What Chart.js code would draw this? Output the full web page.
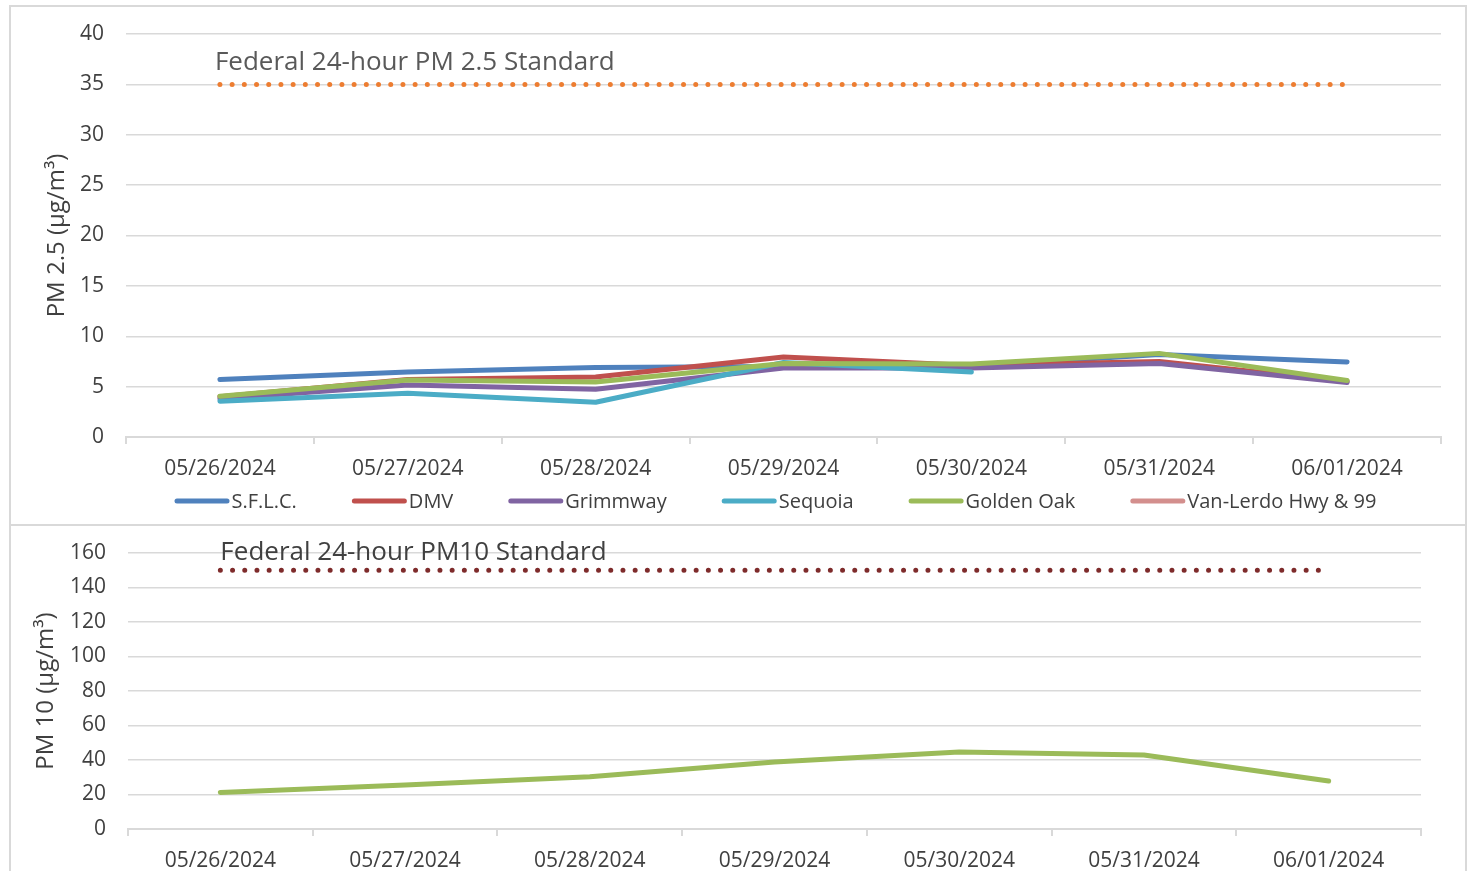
<!DOCTYPE html>
<html>
<head>
<meta charset="utf-8">
<script src="https://cdn.jsdelivr.net/npm/chart.js@4.4.0/dist/chart.umd.min.js"></script>
<style>
  body { margin: 0; background: #fff; width: 1470px; height: 871px; overflow: hidden; position: relative; }
  .box { position: absolute; box-sizing: border-box; border: 2px solid #d9d9d9; }
  canvas { position: absolute; }
</style>
</head>
<body>
<div class="box" style="left:9px;top:5px;width:1458px;height:521px;"></div>
<div class="box" style="left:9px;top:524px;width:1458px;height:360px;"></div>
<canvas id="pm25" style="left:10px;top:6px;"></canvas>
<canvas id="pm10" style="left:10px;top:525px;"></canvas>
<script>
// ---- data ----
var dates = ['05/26/2024', '05/27/2024', '05/28/2024', '05/29/2024', '05/30/2024', '05/31/2024', '06/01/2024'];

var sflc       = [5.7, 6.45, 6.9, 7.0, 7.05, 8.2, 7.45];
var dmv        = [4.0, 5.7, 5.95, 7.95, 7.1, 7.5, 5.5];
var grimmway   = [3.8, 5.15, 4.75, 6.85, 6.85, 7.3, 5.4];
var sequoia    = [3.55, 4.35, 3.45, 7.4, 6.45, null, null];
var goldenOak  = [4.05, 5.65, 5.45, 7.3, 7.25, 8.3, 5.6];
var vanLerdo   = [null, null, null, null, null, null, null];
var pm25Std    = [35, 35, 35, 35, 35, 35, 35];

var goldenOak10 = [21.2, 25.5, 30.3, 38.8, 44.7, 42.9, 27.8];
var pm10Std     = [150, 150, 150, 150, 150, 150, 150];

var FONT = '"Open Sans", "Noto Sans", sans-serif';
var GRID = '#d9d9d9';

// label above the standard line
var stdLabel = {
	id: 'stdLabel',
	afterDatasetsDraw: function(chart, args, opts) {
		var ctx = chart.ctx;
		var x = chart.scales.x.getPixelForValue(0) + opts.dx;
		var y = chart.scales.y.getPixelForValue(opts.value) - opts.dy;
		ctx.save();
		ctx.font = opts.size + 'px ' + FONT;
		ctx.fillStyle = opts.color;
		ctx.textBaseline = 'middle';
		ctx.textAlign = 'left';
		ctx.fillText(opts.text, x, y);
		ctx.restore();
	}
};

// excel style legend: short thick line then the name
var lineLegend = {
	id: 'lineLegend',
	afterDraw: function(chart, args, opts) {
		if (!opts.show) return;
		var ctx = chart.ctx;
		var items = chart.data.datasets.filter(function(d){ return !d.isStd; });
		ctx.save();
		ctx.font = opts.size + 'px ' + FONT;
		var widths = items.map(function(d){ return opts.swatch + opts.gap + ctx.measureText(d.label).width; });
		var total = widths.reduce(function(a,b){ return a + b; }, 0) + opts.spacing * (items.length - 1);
		var cx = (chart.chartArea.left + chart.chartArea.right) / 2 + opts.shift;
		var x = cx - total / 2;
		var y = chart.height - opts.bottom;
		items.forEach(function(d, i){
			ctx.strokeStyle = d.borderColor;
			ctx.lineWidth = 5;
			ctx.lineCap = 'round';
			ctx.beginPath();
			ctx.moveTo(x + 2.5, y);
			ctx.lineTo(x + opts.swatch - 2.5, y);
			ctx.stroke();
			ctx.fillStyle = '#404040';
			ctx.textBaseline = 'middle';
			ctx.fillText(d.label, x + opts.swatch + opts.gap, y + 1);
			x += widths[i] + opts.spacing;
		});
		ctx.restore();
	}
};

function series(label, data, color, order){
	return {
		label: label,
		data: data,
		borderColor: color,
		backgroundColor: color,
		borderWidth: 5,
		pointRadius: 0,
		tension: 0,
		borderJoinStyle: 'round',
		borderCapStyle: 'round',
		order: order
	};
}

function stdSeries(data, color){
	return {
		label: 'Standard',
		isStd: true,
		data: data,
		borderColor: color,
		borderWidth: 5,
		borderDash: [0, 12.2],
		borderCapStyle: 'round',
		pointRadius: 0,
		tension: 0,
		order: 20
	};
}

function makeChart(id, w, h, datasets, o){
	var canvas = document.getElementById(id);
	canvas.width = w;
	canvas.height = h;
	canvas.style.width = w + 'px';
	canvas.style.height = h + 'px';
	return new Chart(canvas, {
		type: 'line',
		data: { labels: dates, datasets: datasets },
		plugins: [stdLabel, lineLegend],
		options: {
			responsive: false,
			animation: false,
			devicePixelRatio: 1,
			layout: { padding: { left: 0, right: o.right, top: o.top, bottom: o.bottom } },
			plugins: {
				legend: { display: false },
				tooltip: { enabled: false },
				stdLabel: o.label,
				lineLegend: o.legend
			},
			scales: {
				x: {
					offset: true,
					afterFit: function(s){ s.height = o.xHeight; },
					grid: { display: true, drawOnChartArea: false, drawTicks: true, tickLength: 7, color: GRID, lineWidth: 2, offset: true },
					border: { display: true, color: GRID, width: 2 },
					ticks: { padding: 12, color: '#404040', font: { family: FONT, size: 21 }, maxRotation: 0, autoSkip: false }
				},
				y: {
					min: 0,
					max: o.yMax,
					afterFit: function(s){
						s.width = o.yWidth;
						s.paddingTop = 0;
						s.paddingBottom = 0;
					},
					grid: { color: GRID, lineWidth: 1.5, drawTicks: false },
					border: { display: false },
					ticks: { stepSize: o.step, padding: 22, color: '#404040', font: { family: FONT, size: 21 } },
					title: { display: true, text: o.yTitle, color: '#404040', font: { family: FONT, size: 24 }, padding: { top: o.titlePad, bottom: 0 } }
				}
			}
		}
	});
}

makeChart('pm25', 1456, 519, [
	stdSeries(pm25Std, '#ED7D31'),
	series('S.F.L.C.', sflc, '#4F81BD', 6),
	series('DMV', dmv, '#C0504D', 5),
	series('Grimmway', grimmway, '#8064A2', 4),
	series('Sequoia', sequoia, '#4BACC6', 3),
	series('Golden Oak', goldenOak, '#9BBB59', 2),
	series('Van-Lerdo Hwy & 99', vanLerdo, '#D38F8D', 1)
], {
	right: 25, top: 28, bottom: 44, xHeight: 44, yWidth: 116,
	yMax: 40, step: 5, yTitle: 'PM 2.5 (µg/m³)', titlePad: 33,
	label: { text: 'Federal 24-hour PM 2.5 Standard', value: 35, dx: -5, dy: 22, size: 26, color: '#595959' },
	legend: { show: true, size: 20, swatch: 55, gap: 2, spacing: 55, bottom: 24, shift: -8 }
});

makeChart('pm10', 1456, 346, [
	stdSeries(pm10Std, '#7E2B2B'),
	series('Golden Oak', goldenOak10, '#9BBB59', 2)
], {
	right: 45, top: 28, bottom: 0, xHeight: 42, yWidth: 118,
	yMax: 160, step: 20, yTitle: 'PM 10 (µg/m³)', titlePad: 22,
	label: { text: 'Federal 24-hour PM10 Standard', value: 150, dx: 0, dy: 18, size: 26, color: '#404040' },
	legend: { show: false }
});
</script>
</body>
</html>
